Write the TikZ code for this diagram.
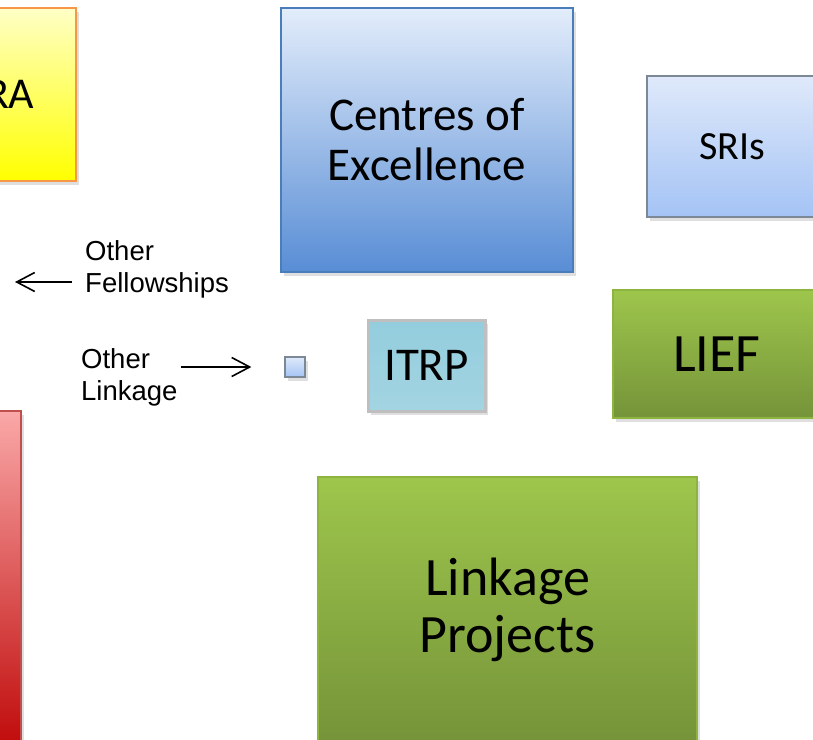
\documentclass[tikz,border=0pt]{standalone}
\usepackage{fontspec}
\setmainfont{Carlito}
\newfontfamily\labelfont{Liberation Sans}
\usetikzlibrary{arrows.meta,shadows}
\definecolor{eratop}{HTML}{FFFFC6}
\definecolor{erabot}{HTML}{FFFF00}
\definecolor{eraedge}{HTML}{F79646}
\definecolor{redtop}{HTML}{FAA8A8}
\definecolor{redbot}{HTML}{BC0000}
\definecolor{rededge}{HTML}{C0504D}
\definecolor{coetop}{HTML}{E3EDFB}
\definecolor{coebot}{HTML}{588DD5}
\definecolor{coeedge}{HTML}{4A7EBB}
\definecolor{sritop}{HTML}{DFE9FA}
\definecolor{sribot}{HTML}{A4C3F5}
\definecolor{sriedge}{HTML}{7D8896}
\definecolor{itrptop}{HTML}{93CDDD}
\definecolor{itrpmid}{HTML}{B8DFE9}
\definecolor{itrpbot}{HTML}{A3D4E2}
\definecolor{itrpedge}{HTML}{BFBFBF}
\definecolor{greentop}{HTML}{9EC64C}
\definecolor{greenmid}{HTML}{98BF48}
\definecolor{greenbot}{HTML}{759339}
\definecolor{greenedge}{HTML}{8DB43F}
\tikzset{
  panel/.style={rectangle, draw, line width=1.5pt, inner sep=0pt, align=center,
    drop shadow={opacity=0.25, shadow xshift=3pt, shadow yshift=-4pt}},
  tag/.style={inner sep=0pt, align=left, anchor=north west,
    font=\labelfont\fontsize{27.5}{32}\selectfont},
  arr/.style={-{Straight Barb[length=18pt,width=19pt]}, line width=1.6pt}
}

\begin{document}
\begin{tikzpicture}[x=1pt,y=-1pt]
\useasboundingbox (0,0) rectangle (813,739);
\clip (0,0) rectangle (813,739);
% boxes
\node[panel, draw=eraedge, line width=2pt, top color=eratop, bottom color=erabot,
  minimum width=154pt, minimum height=173pt, font=\fontsize{44}{50}\selectfont] (era) at (-1,94.5) {ERA};
\node[panel, draw=rededge, line width=2pt, top color=redtop, bottom color=redbot,
  minimum width=82pt, minimum height=358pt] (arc) at (-20,590) {};
\node[panel, draw=coeedge, top color=coetop, bottom color=coebot,
  minimum width=292pt, minimum height=264pt, font=\fontsize{47}{50}\selectfont] (coe) at (427,140) {Centres of\\Excellence};
\node[panel, draw=sriedge, top color=sritop, bottom color=sribot,
  minimum width=170pt, minimum height=141pt, font=\fontsize{40}{44}\selectfont] (sri) at (732,146.5) {SRIs};
\node[panel, draw=itrpedge, line width=3pt, top color=itrptop, middle color=itrpmid, bottom color=itrpbot,
  minimum width=117pt, minimum height=91pt, font=\fontsize{47}{50}\selectfont] (itrp) at (426.5,365.5) {ITRP};
\node[panel, draw=sriedge, line width=1.2pt, top color=sritop, bottom color=sribot,
  minimum width=20pt, minimum height=20pt] (dot) at (295,367) {};
\node[panel, draw=greenedge, top color=greentop, middle color=greenmid, bottom color=greenbot,
  minimum width=208pt, minimum height=128pt, font=\fontsize{54}{57}\selectfont] (lief) at (717,354) {LIEF};
\node[panel, draw=greenedge, top color=greentop, bottom color=greenbot,
  minimum width=379pt, minimum height=266pt, font=\fontsize{54}{57}\selectfont] (lp) at (507.5,610) {Linkage\\Projects};
% labels and arrows
\node[tag] (fel) at (85,240.5) {Other\\Fellowships};
\node[tag] (lnk) at (81,348.5) {Other\\Linkage};
\coordinate (felend) at (15,282);
\draw[arr, shorten <=13pt] (fel.west |- felend) -- (felend);
\draw[arr, shorten <=3pt, shorten >=33pt] (lnk.east |- dot.west) -- (dot.west);
\end{tikzpicture}
\end{document}
